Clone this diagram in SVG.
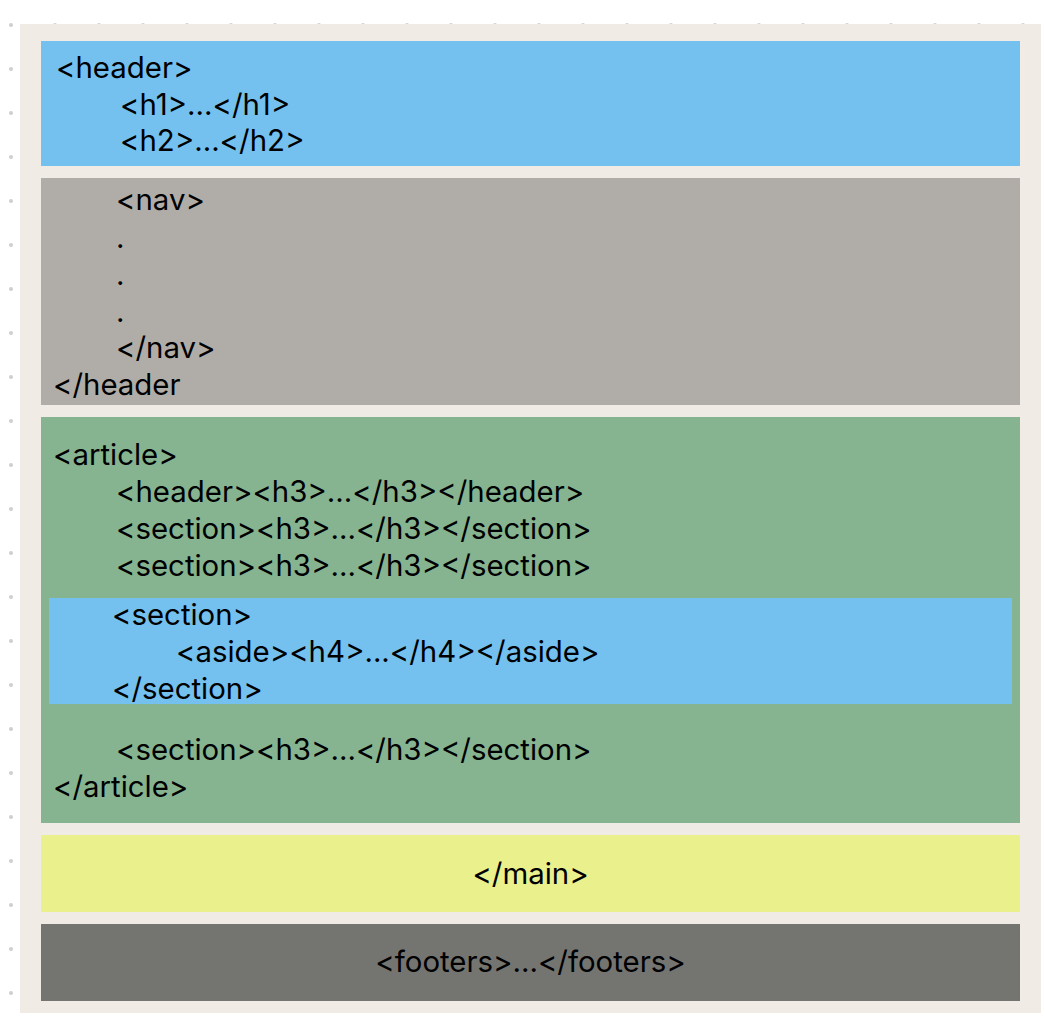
<svg xmlns="http://www.w3.org/2000/svg" width="1045" height="1035" viewBox="0 0 1045 1035">
<defs>
<style>
text{font-family:Inter,"Liberation Sans",sans-serif;font-size:29.4px;fill:#000}
.mid{text-anchor:middle}
.dot{fill:#cfcfcf}
</style>
<pattern id="dots" x="-11" y="3" width="44" height="44" patternUnits="userSpaceOnUse">
<circle cx="22" cy="22" r="2" class="dot"/>
</pattern>
</defs>
<rect width="1045" height="1035" fill="#fff"/>
<g id="grid">
<rect x="0" y="0" width="1045" height="1035" fill="url(#dots)"/>
</g>
<rect id="page" x="20" y="24" width="1021" height="989" fill="#F0EBE5"/>
<g id="header">
<rect x="41" y="41" width="979" height="125" fill="#74C1F0"/>
<text x="56" y="78">&lt;header&gt;</text>
<text x="120" y="115">&lt;h1&gt;...&lt;/h1&gt;</text>
<text x="120" y="151">&lt;h2&gt;...&lt;/h2&gt;</text>
</g>
<g id="nav">
<rect x="41" y="178" width="979" height="227" fill="#B0ADA8"/>
<text x="116" y="210">&lt;nav&gt;</text>
<text x="116" y="248">.</text>
<text x="116" y="285">.</text>
<text x="116" y="322">.</text>
<text x="116" y="358">&lt;/nav&gt;</text>
<text x="53" y="395">&lt;/header</text>
</g>
<g id="article">
<rect x="41" y="417" width="979" height="406" fill="#86B490"/>
<text x="53" y="465">&lt;article&gt;</text>
<text x="116" y="502">&lt;header&gt;&lt;h3&gt;...&lt;/h3&gt;&lt;/header&gt;</text>
<text x="116" y="539">&lt;section&gt;&lt;h3&gt;...&lt;/h3&gt;&lt;/section&gt;</text>
<text x="116" y="576">&lt;section&gt;&lt;h3&gt;...&lt;/h3&gt;&lt;/section&gt;</text>
<text x="116" y="760">&lt;section&gt;&lt;h3&gt;...&lt;/h3&gt;&lt;/section&gt;</text>
<text x="53" y="797">&lt;/article&gt;</text>
</g>
<g id="section-aside">
<rect x="49" y="598" width="963" height="106" fill="#74C1F0"/>
<text x="112" y="625">&lt;section&gt;</text>
<text x="176" y="662">&lt;aside&gt;&lt;h4&gt;...&lt;/h4&gt;&lt;/aside&gt;</text>
<text x="112" y="699">&lt;/section&gt;</text>
</g>
<g id="main-end">
<rect x="41" y="835" width="979" height="77" fill="#EAF08C"/>
<text class="mid" x="530.5" y="884">&lt;/main&gt;</text>
</g>
<g id="footer">
<rect x="41" y="924" width="979" height="77" fill="#747571"/>
<text class="mid" x="530.5" y="972">&lt;footers&gt;...&lt;/footers&gt;</text>
</g>
<g id="connectors"/>
</svg>
